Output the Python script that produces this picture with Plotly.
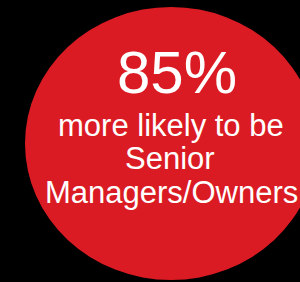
import plotly.graph_objects as go

# Data
headline = ["85%"]
label_lines = ["more likely to be", "Senior", "Managers/Owners"]

# Style
BG = "#000000"
RED = "#DB1B23"
FONT = "Liberation Sans, Arial, sans-serif"

fig = go.Figure()

# Pixel-like coordinate system
fig.update_xaxes(range=[0, 300], visible=False, fixedrange=True)
fig.update_yaxes(range=[282, 0], visible=False, fixedrange=True)

fig.add_shape(type="circle", xref="x", yref="y",
              x0=25, x1=317, y0=7, y1=280,
              fillcolor=RED, line=dict(width=0), layer="below")

def desc(size):
    return 0.26 * size

annotations = []
annotations.append(dict(x=177, y=92 + desc(60), xref="x", yref="y", text=headline[0],
                        showarrow=False, xanchor="center", yanchor="bottom",
                        font=dict(family=FONT, size=60, color="white")))
baselines = [137, 170, 204]
centers = [171, 170, 171]
for txt, yb, xc in zip(label_lines, baselines, centers):
    annotations.append(dict(x=xc, y=yb + desc(31), xref="x", yref="y", text=txt,
                            showarrow=False, xanchor="center", yanchor="bottom",
                            font=dict(family=FONT, size=31, color="white")))

fig.update_layout(
    width=300, height=282,
    margin=dict(l=0, r=0, t=0, b=0),
    paper_bgcolor=BG, plot_bgcolor=BG,
    annotations=annotations,
    showlegend=False,
)

fig.write_html(
    "out.html",
    config={"displayModeBar": False},
    post_script="document.body.style.margin='0';document.body.style.background='#000';document.body.style.overflow='hidden';",
)
